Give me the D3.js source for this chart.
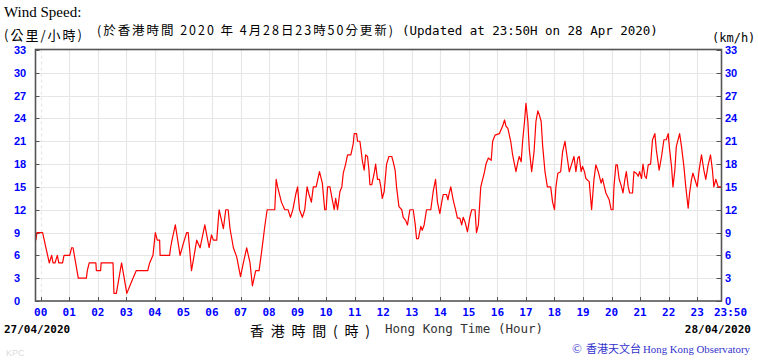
<!DOCTYPE html>
<html>
<head>
<meta charset="utf-8">
<script src="https://cdn.jsdelivr.net/npm/d3@7"></script>
<style>
  html, body { margin: 0; padding: 0; background: #fff; }
  svg { display: block; }
</style>
</head>
<body>
<div class="svg-container"></div>
<script>
// Wind speed readings: minutes after 00:00 on 27/04/2020 and km/h
const minutes = [
  -10, -8, 4, 18, 23, 26, 30, 35, 38, 46, 49, 61, 65, 68, 79, 96, 98, 102, 116, 117,
  126, 127, 152, 154, 159, 170, 181, 194, 201, 225, 229, 236, 241, 245, 250, 251, 271, 273, 276, 283,
  288, 293, 300, 307, 310, 317, 328, 335, 345, 354, 359, 363, 370, 375, 384, 389, 394, 398, 405, 412,
  420, 426, 433, 440, 445, 452, 459, 464, 471, 476, 492, 495, 498, 506, 513, 520, 525, 530, 536, 540,
  544, 550, 555, 560, 564, 569, 573, 579, 586, 592, 597, 600, 603, 608, 613, 617, 620, 624, 629, 633,
  636, 641, 645, 652, 657, 659, 664, 666, 671, 676, 680, 683, 687, 690, 692, 696, 701, 704, 708, 712,
  715, 718, 722, 727, 732, 738, 741, 745, 748, 753, 759, 762, 767, 771, 776, 783, 787, 790, 794, 799,
  802, 806, 811, 820, 825, 830, 834, 839, 843, 846, 853, 856, 858, 862, 867, 872, 876, 881, 885, 888,
  892, 897, 902, 906, 913, 916, 920, 925, 933, 936, 941, 947, 950, 955, 964, 971, 975, 978, 982, 988,
  992, 999, 1003, 1006, 1010, 1013, 1017, 1020, 1024, 1027, 1032, 1037, 1041, 1045, 1048, 1052, 1055, 1060, 1065, 1072,
  1076, 1080, 1083, 1087, 1093, 1097, 1102, 1106, 1111, 1116, 1121, 1125, 1129, 1132, 1136, 1139, 1143, 1146, 1153, 1158,
  1163, 1167, 1172, 1178, 1181, 1185, 1188, 1195, 1199, 1203, 1205, 1209, 1212, 1216, 1221, 1224, 1228, 1231, 1235, 1238,
  1244, 1247, 1252, 1256, 1259, 1263, 1266, 1270, 1273, 1277, 1282, 1286, 1291, 1294, 1300, 1305, 1310, 1315, 1319, 1322,
  1326, 1329, 1333, 1336, 1343, 1347, 1352, 1356, 1361, 1364, 1368, 1371, 1375, 1380, 1384, 1389, 1394, 1398, 1403, 1408,
  1412, 1415, 1419, 1424, 1430
];
const speeds = [
  8, 9, 9, 5, 6, 5, 5, 6, 5, 5, 6, 6, 7, 7, 3, 3, 4, 5, 5, 4,
  4, 5, 5, 1, 1, 5, 1, 3, 4, 4, 5, 6, 9, 8, 8, 6, 6, 7, 8, 10,
  8, 6, 7.6, 9, 9, 4, 8, 7, 10, 7, 8.7, 8, 8, 12, 9.5, 12, 12, 9.5, 7, 5.8,
  3.2, 5, 7, 5, 2, 4, 4, 6.3, 9.8, 12, 12, 16, 15, 13, 12, 12, 11, 12, 14, 15,
  12, 11, 12, 15, 14, 13, 15, 15, 17, 15.5, 12, 12, 15, 15, 13.3, 12, 13.5, 12, 14.4, 15,
  16.8, 18, 19.2, 19.2, 20.7, 22, 22, 21, 21, 18.5, 17.2, 19.2, 19, 17.2, 15.3, 15.3, 16.8, 18, 16, 16,
  15, 13.5, 14.4, 18, 19, 19, 18.3, 17.2, 15, 12.4, 12, 11, 10.6, 10, 12, 12, 10.2, 8.2, 8.2, 9.8,
  9.3, 10, 12, 12, 14.4, 16, 13, 11.5, 13, 14, 14, 13.3, 14, 15, 13.3, 12, 10.9, 10.9, 10, 11,
  10.4, 9.1, 11, 12, 12, 9, 10, 15, 17, 18, 18.8, 18.5, 21, 21.8, 22, 23, 23.8, 23, 22.7, 21,
  19.2, 17, 18.3, 19, 18.3, 21, 23.6, 26, 23.6, 20, 17, 19.6, 23.6, 25, 24.5, 23.6, 20.5, 17, 15, 15,
  13, 12, 15, 16.8, 17, 19.6, 21, 19.2, 17, 18, 19, 17, 18.8, 19, 17, 17.7, 17, 16.1, 15.7, 12,
  16, 17.9, 17, 15.5, 16.1, 15, 14.2, 13.3, 12, 12, 15, 17.9, 17.9, 16, 15, 14.2, 16, 17, 15, 14.2,
  14.2, 17, 16.8, 16.4, 17, 16.1, 18, 16.4, 16.1, 17.9, 18, 21.2, 22, 19.9, 17.2, 19, 21.2, 21.2, 22, 19.9,
  17.7, 15, 17.2, 20.3, 22, 20.3, 17.7, 15, 12.2, 14.2, 16, 16.8, 16, 15, 17.2, 19.2, 17.2, 16, 17.9, 19.2,
  17.2, 15, 16, 15, 15
];

// Axis ticks
const hourTicks = d3.range(0, 24).map(h => h * 60);
const hourLabels = hourTicks.map(m => String(m / 60).padStart(2, '0'));
const endTick = 1430;
const endLabel = '23:50';
const yTicks = [0, 3, 6, 9, 12, 15, 18, 21, 24, 27, 30, 33];

const W = 758, H = 360;
const box = {left: 35.5, right: 721.5, top: 49.5, bottom: 301};

const svg = d3.select('.svg-container')
  .append('svg')
  .attr('width', W)
  .attr('height', H);

const x = d3.scaleLinear().domain([0, endTick]).range([40.7, 721]);
const y = d3.scaleLinear().domain([0, 33]).range([301, 50]);

// Grid
const grid = svg.append('g');
grid.selectAll('.hgrid')
  .data(yTicks.filter(d => d > 0 && d < 33))
  .enter().append('line')
    .attr('x1', box.left).attr('x2', box.right)
    .attr('y1', d => Math.round(y(d)) + 0.5).attr('y2', d => Math.round(y(d)) + 0.5)
    .attr('stroke', '#e6e6e6').attr('stroke-width', 1.2);
grid.selectAll('.vgrid')
  .data(hourTicks)
  .enter().append('line')
    .attr('x1', d => Math.round(x(d)) + 0.5).attr('x2', d => Math.round(x(d)) + 0.5)
    .attr('y1', box.top).attr('y2', box.bottom)
    .attr('stroke', '#e6e6e6').attr('stroke-width', 1.2)
    .attr('stroke-dasharray', d => d === 0 ? '3,3' : null);

// Inner tick marks
const ticks = svg.append('g').attr('stroke', '#555').attr('stroke-width', 1);
ticks.selectAll('.bt')
  .data(hourTicks)
  .enter().append('line')
    .attr('x1', d => Math.round(x(d)) + 0.5).attr('x2', d => Math.round(x(d)) + 0.5)
    .attr('y1', box.bottom).attr('y2', box.bottom - 4);
ticks.selectAll('.lt')
  .data(yTicks)
  .enter().append('line')
    .attr('x1', box.left).attr('x2', box.left + 4)
    .attr('y1', d => Math.round(y(d)) + 0.5).attr('y2', d => Math.round(y(d)) + 0.5);
ticks.selectAll('.rt')
  .data(yTicks)
  .enter().append('line')
    .attr('x1', box.right).attr('x2', box.right - 5)
    .attr('y1', d => Math.round(y(d)) + 0.5).attr('y2', d => Math.round(y(d)) + 0.5);

// Data line
const line = d3.line()
  .x((d, i) => x(minutes[i]))
  .y(d => y(d));
svg.append('path')
  .datum(speeds)
  .attr('d', line)
  .attr('fill', 'none')
  .attr('stroke', '#ff0000')
  .attr('stroke-width', 1.2)
  .attr('stroke-linejoin', 'round');

// Frame
svg.append('rect')
  .attr('x', box.left).attr('y', box.top)
  .attr('width', box.right - box.left).attr('height', box.bottom - box.top)
  .attr('fill', 'none').attr('stroke', '#555').attr('stroke-width', 1.6);

// Y labels
const blue = '#0000ff';
svg.selectAll('.yl')
  .data(yTicks)
  .enter().append('text')
    .attr('x', 14).attr('y', d => y(d) + 4)
    .attr('fill', blue)
    .style('font', 'bold 11px "Liberation Sans", Arial, sans-serif')
    .text(d => d);
svg.selectAll('.yr')
  .data(yTicks)
  .enter().append('text')
    .attr('x', 725).attr('y', d => y(d) + 4)
    .attr('fill', blue)
    .style('font', 'bold 11px "Liberation Sans", Arial, sans-serif')
    .text(d => d);

// X labels
const mono = '"DejaVu Sans Mono", monospace';
svg.selectAll('.xl')
  .data(hourTicks)
  .enter().append('text')
    .attr('x', d => x(d)).attr('y', 316)
    .attr('text-anchor', 'middle')
    .attr('fill', blue)
    .style('font', `bold 11px ${mono}`)
    .text((d, i) => hourLabels[i]);
svg.append('text')
  .attr('x', x(endTick) - 7).attr('y', 316)
  .attr('fill', blue)
  .style('font', `bold 11px ${mono}`)
  .text(endLabel);

// Titles
const cjk = '"Noto Sans CJK TC", sans-serif';
svg.append('text')
  .attr('x', 4).attr('y', 17)
  .style('font', '15px "Liberation Serif", "Times New Roman", serif')
  .text('Wind Speed:');
svg.append('text')
  .attr('x', 4).attr('y', 40)
  .attr('textLength', 78).attr('lengthAdjust', 'spacing')
  .style('font', `13px ${cjk}`)
  .text('(公里/小時)');
svg.append('text')
  .attr('x', 97).attr('y', 35)
  .attr('textLength', 296).attr('lengthAdjust', 'spacing')
  .style('font', `12.5px ${cjk}`)
  .text('(於香港時間 2020 年 4月28日23時50分更新)');
svg.append('text')
  .attr('x', 402).attr('y', 35)
  .style('font', `12.5px ${mono}`)
  .text('(Updated at 23:50H on 28 Apr 2020)');
svg.append('text')
  .attr('x', 712).attr('y', 42)
  .style('font', `12px ${mono}`)
  .text('(km/h)');

// Footer
svg.append('text')
  .attr('x', 4).attr('y', 333)
  .style('font', `bold 11px ${mono}`)
  .text('27/04/2020');
svg.append('text')
  .attr('x', 751).attr('y', 333)
  .attr('text-anchor', 'end')
  .style('font', `bold 11px ${mono}`)
  .text('28/04/2020');
svg.append('text')
  .attr('x', 250).attr('y', 336)
  .attr('textLength', 120).attr('lengthAdjust', 'spacing')
  .style('font', `14px ${cjk}`)
  .text('香港時間(時)');
svg.append('text')
  .attr('x', 385).attr('y', 333)
  .attr('fill', '#333')
  .style('font', `12.5px ${mono}`)
  .text('Hong Kong Time (Hour)');
svg.append('text')
  .attr('x', 6).attr('y', 356)
  .attr('fill', '#dcdcdc')
  .style('font', '9px "Liberation Sans", Arial, sans-serif')
  .text('KPC');

const credit = svg.append('g').attr('fill', '#3333cc');
credit.append('text')
  .attr('x', 572).attr('y', 353)
  .style('font', '13px "Liberation Serif", serif')
  .text('©');
credit.append('text')
  .attr('x', 586).attr('y', 353)
  .attr('textLength', 55).attr('lengthAdjust', 'spacing')
  .style('font', `11px ${cjk}`)
  .text('香港天文台');
credit.append('text')
  .attr('x', 643).attr('y', 353)
  .attr('textLength', 107).attr('lengthAdjust', 'spacingAndGlyphs')
  .style('font', '11px "Liberation Serif", "Times New Roman", serif')
  .text('Hong Kong Observatory');
</script>
</body>
</html>
